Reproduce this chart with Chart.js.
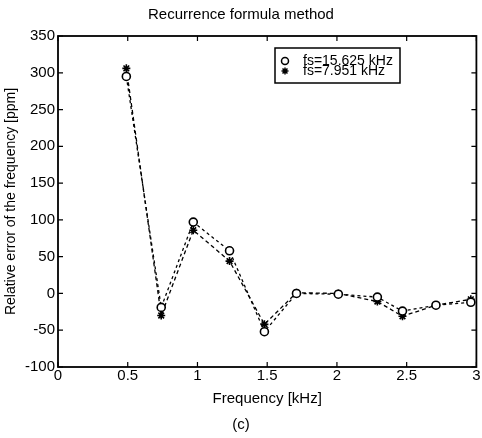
<!DOCTYPE html>
<html>
<head>
<meta charset="utf-8">
<title>Recurrence formula method</title>
<script src="https://cdn.jsdelivr.net/npm/chart.js@4/dist/chart.umd.min.js"></script>
<style>
  html, body { margin: 0; padding: 0; background: #fff; }
  #wrap { width: 482px; height: 438px; }
</style>
</head>
<body>
<div id="wrap"><canvas id="chart" width="482" height="438"></canvas></div>
<script>
// frequency of each measurement [kHz]
const freqKHz = [0.49, 0.74, 0.97, 1.23, 1.48, 1.71, 2.01, 2.29, 2.47, 2.71, 2.96];
// relative error [ppm] for the two sampling rates
const errFs15625 = [295, -19, 97, 58, -52, 0, -1, -5, -24, -16, -12];
const errFs7951 = [306, -30, 86, 44, -42, 1, 0, -11, -31, -16, -8];
const seriesLabels = ['fs=15.625 kHz', 'fs=7.951 kHz'];
const xTicks = [0, 0.5, 1, 1.5, 2, 2.5, 3];
const yTicks = [-100, -50, 0, 50, 100, 150, 200, 250, 300, 350];

const FONT = "'Liberation Sans', Arial, sans-serif";
const toPoints = (ys) => ys.map((y, i) => ({ x: freqKHz[i], y: y }));

// box around the plot with matlab-style ticks pointing inwards on all sides
const frameTicks = {
  id: 'frameTicks',
  afterDraw(chart) {
    const { ctx, chartArea: a, scales } = chart;
    const len = 5;
    ctx.save();
    ctx.strokeStyle = '#000';
    ctx.lineWidth = 1.8;
    ctx.strokeRect(a.left, a.top, a.right - a.left, a.bottom - a.top);
    ctx.lineWidth = 1.2;
    ctx.beginPath();
    xTicks.forEach(v => {
      const px = scales.x.getPixelForValue(v);
      ctx.moveTo(px, a.bottom); ctx.lineTo(px, a.bottom - len);
      ctx.moveTo(px, a.top); ctx.lineTo(px, a.top + len);
    });
    yTicks.forEach(v => {
      const py = scales.y.getPixelForValue(v);
      ctx.moveTo(a.left, py); ctx.lineTo(a.left + len, py);
      ctx.moveTo(a.right, py); ctx.lineTo(a.right - len, py);
    });
    ctx.stroke();
    ctx.restore();
  }
};

// boxed legend inside the plot, markers only
const boxLegend = {
  id: 'boxLegend',
  afterDraw(chart) {
    const { ctx, chartArea: a } = chart;
    const bx = a.left + 217, by = a.top + 12, bw = 125, bh = 35;
    ctx.save();
    ctx.fillStyle = '#fff';
    ctx.fillRect(bx, by, bw, bh);
    ctx.strokeStyle = '#000';
    ctx.lineWidth = 1.5;
    ctx.strokeRect(bx, by, bw, bh);
    ctx.font = '14px ' + FONT;
    ctx.textBaseline = 'middle';
    chart.data.datasets.forEach((ds, i) => {
      const y = by + 13 + i * 10;
      ctx.fillStyle = '#fff';
      ctx.strokeStyle = '#000';
      Chart.helpers.drawPoint(ctx, {
        pointStyle: ds.pointStyle, radius: 3.5, borderWidth: 1.5
      }, bx + 10, y);
      ctx.fillStyle = '#000';
      ctx.fillText(ds.label, bx + 28, y);
    });
    ctx.restore();
  }
};

new Chart(document.getElementById('chart'), {
  type: 'line',
  data: {
    datasets: [
      {
        label: seriesLabels[0],
        data: toPoints(errFs15625),
        borderColor: '#000',
        backgroundColor: '#000',
        borderWidth: 1.3,
        borderDash: [3, 3],
        pointStyle: 'circle',
        pointRadius: 4,
        pointBorderWidth: 1.6,
        pointBackgroundColor: '#fff',
        pointBorderColor: '#000',
        tension: 0
      },
      {
        label: seriesLabels[1],
        data: toPoints(errFs7951),
        borderColor: '#000',
        backgroundColor: '#000',
        borderWidth: 1.3,
        borderDash: [4, 3],
        pointStyle: 'star',
        pointRadius: 4,
        pointBorderWidth: 1.6,
        pointBorderColor: '#000',
        tension: 0
      }
    ]
  },
  options: {
    responsive: false,
    animation: false,
    layout: { padding: { left: 0, right: 0, top: 0, bottom: 0 } },
    plugins: {
      legend: { display: false },
      tooltip: { enabled: false },
      title: {
        display: true,
        text: 'Recurrence formula method',
        color: '#000',
        font: { family: FONT, size: 15, weight: 'normal' },
        padding: { top: 6, bottom: 12 }
      },
      subtitle: {
        display: true,
        position: 'bottom',
        text: '(c)',
        color: '#000',
        font: { family: FONT, size: 15, weight: 'normal' },
        padding: { top: 5, bottom: 4 }
      }
    },
    scales: {
      x: {
        type: 'linear',
        min: 0,
        max: 3,
        afterBuildTicks: s => { s.ticks = xTicks.map(v => ({ value: v })); },
        afterFit: s => { s.height = 44; },
        grid: { display: false, drawTicks: false },
        border: { display: false },
        ticks: {
          color: '#000',
          padding: 0,
          font: { family: FONT, size: 15 },
          maxRotation: 0,
          callback: v => String(v)
        },
        title: {
          display: true,
          text: 'Frequency [kHz]',
          color: '#000',
          font: { family: FONT, size: 15 },
          padding: { top: 0, bottom: 3 }
        }
      },
      y: {
        type: 'linear',
        min: -100,
        max: 350,
        afterBuildTicks: s => { s.ticks = yTicks.map(v => ({ value: v })); },
        afterFit: s => { s.width = 58; },
        grid: { display: false, drawTicks: false },
        border: { display: false },
        ticks: {
          color: '#000',
          padding: 3,
          font: { family: FONT, size: 15 },
          callback: v => String(v)
        },
        title: {
          display: true,
          text: 'Relative error of the frequency [ppm]',
          color: '#000',
          font: { family: FONT, size: 14 },
          padding: { top: 3, bottom: 0 }
        }
      }
    }
  },
  plugins: [frameTicks, boxLegend]
});
</script>
</body>
</html>
